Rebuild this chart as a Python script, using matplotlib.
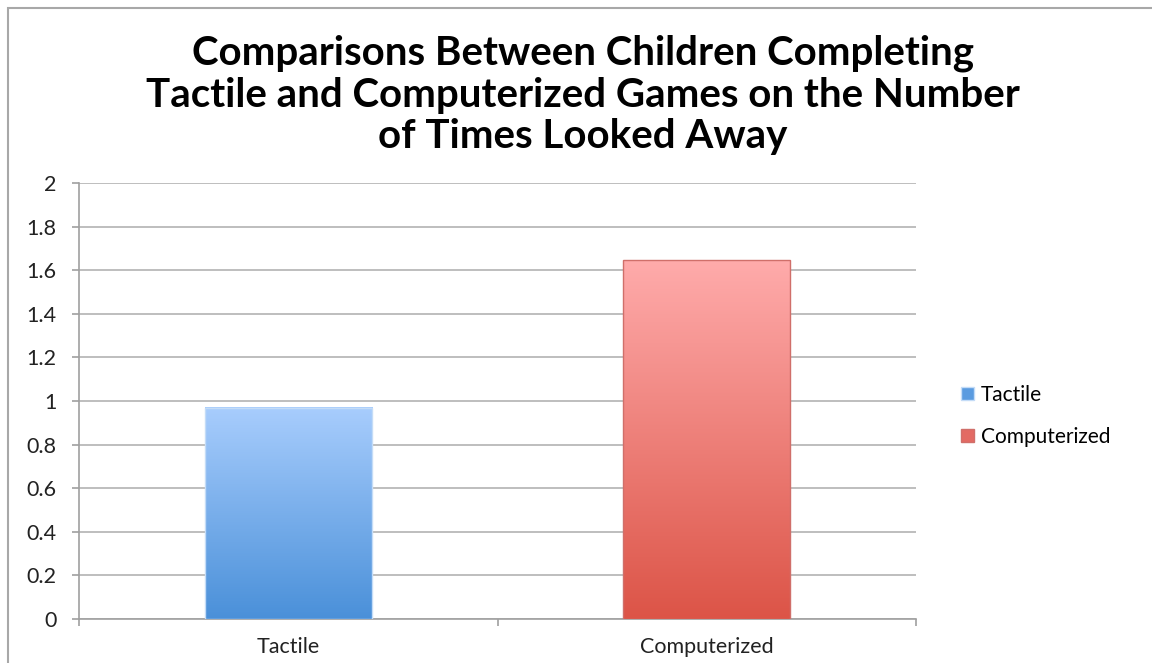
import matplotlib
matplotlib.use("Agg")
import matplotlib.pyplot as plt
import numpy as np
from matplotlib.colors import LinearSegmentedColormap
from matplotlib.patches import Rectangle, Patch

categories = ["Tactile", "Computerized"]
values = [0.97, 1.645]
y_ticks = [0, 0.2, 0.4, 0.6, 0.8, 1, 1.2, 1.4, 1.6, 1.8, 2]
y_labels = ["0", "0.2", "0.4", "0.6", "0.8", "1", "1.2", "1.4", "1.6", "1.8", "2"]
title = "Comparisons Between Children Completing\nTactile and Computerized Games on the Number\nof Times Looked Away"
grad_top = ["#a8cdfd", "#ffabab"]
grad_bottom = ["#4a90d9", "#dc5447"]
edge_cols = ["#c4dcf7", "#d06f6a"]
legend_cols = ["#5a9be0", "#e36a63"]

plt.rcParams['font.family'] = ['Lato', 'DejaVu Sans']

fig = plt.figure(figsize=(11.52, 6.63), dpi=100)
ax = fig.add_axes([79/1152, 1-619/663, (916-79)/1152, (619-183)/663])

x = np.arange(len(categories))
bars = ax.bar(x, values, width=0.40, color="none", edgecolor="none", zorder=3)
for i, b in enumerate(bars):
    cmap = LinearSegmentedColormap.from_list(f"g{i}", [grad_bottom[i], grad_top[i]])
    grad = np.linspace(0, 1, 256).reshape(-1, 1)
    x0, y0, w, h = b.get_x(), b.get_y(), b.get_width(), b.get_height()
    ax.imshow(grad, cmap=cmap, origin="lower", aspect="auto",
              extent=[x0, x0 + w, y0, y0 + h], zorder=3)
    ax.add_patch(Rectangle((x0, y0), w, h, facecolor="none",
                           edgecolor=edge_cols[i], linewidth=1.0, zorder=4))

ax.set_xlim(-0.5, len(categories) - 0.5)
ax.set_ylim(0, 2)
ax.set_yticks(y_ticks)
ax.set_yticklabels(y_labels)
ax.yaxis.grid(True, color="#b3b3b3", linewidth=1.2, zorder=0)
ax.set_axisbelow(True)

ax.set_xticks(x)
ax.set_xticklabels(categories)
ax.tick_params(axis="x", length=0, labelsize=15.5, pad=13, colors="#222222")
ax.set_xticks(np.arange(len(categories) + 1) - 0.5, minor=True)
ax.tick_params(axis="x", which="minor", length=5, color="#a0a0a0", width=1.2)
ax.tick_params(axis="y", length=5, color="#a0a0a0", width=1.2, labelsize=15.5, pad=11,
               labelcolor="#222222")

for s in ["top", "right"]:
    ax.spines[s].set_visible(False)
for s in ["left", "bottom"]:
    ax.spines[s].set_color("#a0a0a0")
    ax.spines[s].set_linewidth(1.2)

fig.text(0.506, 0.857, title, ha="center", va="center", fontsize=29,
         fontweight="bold", color="#000000", linespacing=1.16)

handles = [Patch(facecolor=legend_cols[i], edgecolor=edge_cols[i], label=categories[i])
           for i in range(len(categories))]
fig.legend(handles=handles, loc="center left", bbox_to_anchor=(0.818, 0.373),
           frameon=False, fontsize=15, handlelength=0.6, handleheight=0.6,
           handletextpad=0.35, labelspacing=1.05)

fig.add_artist(Rectangle((8/1152, -0.05), 1.1, 1 - 8/663 + 0.05, transform=fig.transFigure,
                         facecolor="none", edgecolor="#a8a8a8", linewidth=1.5))

fig.savefig("out.png", dpi=100)
